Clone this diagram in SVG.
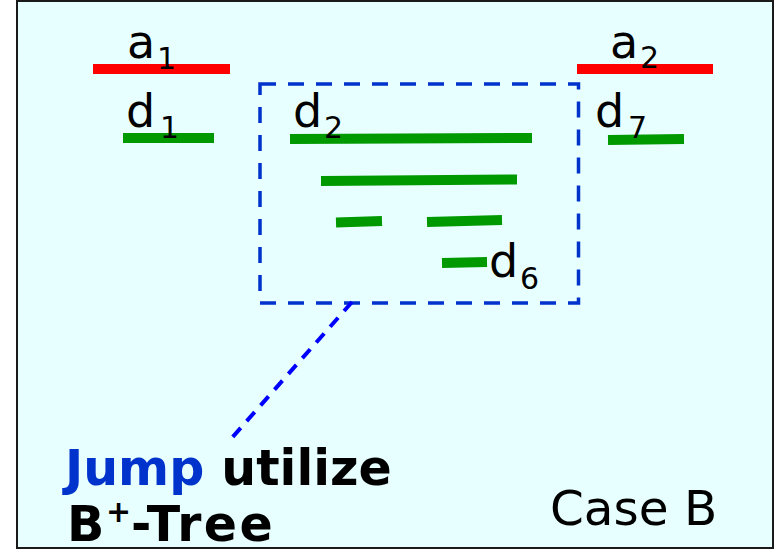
<svg xmlns="http://www.w3.org/2000/svg" width="775" height="550" viewBox="0 0 775 550">
<style>
.t{font-family:"DejaVu Sans",Verdana,sans-serif;font-size:46px;fill:#000}
.s{font-size:30px}
.b{font-family:"DejaVu Sans",Verdana,sans-serif;font-size:49px;font-weight:bold;fill:#000}
.red{stroke:#FF0000;stroke-width:10;fill:none}
.grn{stroke:#009900;stroke-width:10;fill:none}
</style>
<rect x="17" y="1" width="756" height="547" fill="#E8FFFF" stroke="#1a1a1a" stroke-width="2"/>
<g id="a1">
<line class="red" x1="93" y1="69" x2="230" y2="69"/>
<text class="t" x="127" y="58">a<tspan class="s" x="157" y="69">1</tspan></text>
</g>
<g id="a2">
<line class="red" x1="577" y1="69" x2="713" y2="69"/>
<text class="t" x="610" y="58">a<tspan class="s" x="640" y="68">2</tspan></text>
</g>
<g id="d1">
<line class="grn" x1="123" y1="138" x2="214" y2="138"/>
<text class="t" x="126" y="127">d<tspan class="s" x="160" y="138">1</tspan></text>
</g>
<g id="d7">
<line class="grn" x1="608" y1="140" x2="684" y2="139"/>
<text class="t" x="595" y="127">d<tspan class="s" x="628" y="138">7</tspan></text>
</g>
<g id="box">
<rect x="260" y="84" width="318.5" height="219" fill="none" stroke="#0033CC" stroke-width="3.5" stroke-dasharray="16 12"/>
<line class="grn" x1="290" y1="139" x2="532" y2="138"/>
<text class="t" x="293" y="127">d<tspan class="s" x="324" y="138">2</tspan></text>
<line class="grn" x1="321" y1="181" x2="517" y2="179.5"/>
<line class="grn" x1="336" y1="222.5" x2="382" y2="221"/>
<line class="grn" x1="427" y1="222" x2="502" y2="220"/>
<line class="grn" x1="442" y1="263" x2="487" y2="262"/>
<text class="t" x="489" y="277">d<tspan class="s" x="520" y="289">6</tspan></text>
</g>
<g id="connectors">
<line x1="352" y1="302" x2="230" y2="440" stroke="#0000FF" stroke-width="4" stroke-dasharray="12 9"/>
</g>
<g id="label">
<text class="b" x="65" y="485"><tspan fill="#0033CC">Jump</tspan> utilize</text>
<text class="b" x="67" y="541">B<tspan style="font-size:30px" x="106" y="522">+</tspan><tspan x="131" y="541" style="letter-spacing:2.5px">-Tree</tspan></text>
</g>
<g id="case">
<text class="t" x="550" y="525" style="font-size:48.5px">Case B</text>
</g>
</svg>
